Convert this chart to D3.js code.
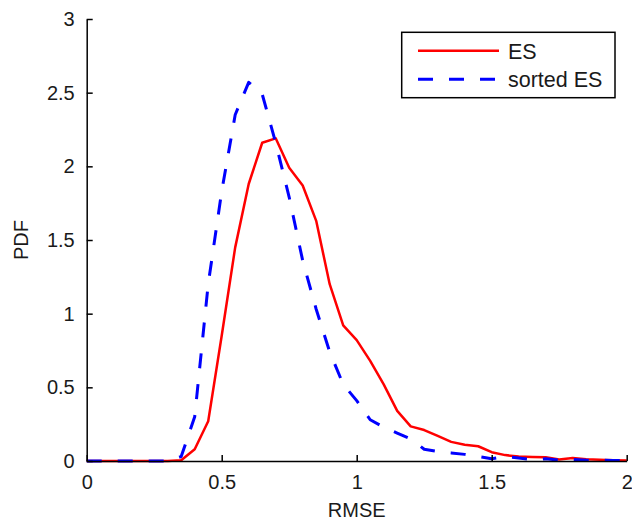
<!DOCTYPE html>
<html>
<head>
<meta charset="utf-8">
<script src="https://cdn.jsdelivr.net/npm/d3@7"></script>
<style>
  body { margin: 0; background: #fff; }
  svg { display: block; font-family: "Liberation Sans", Arial, sans-serif; }
</style>
</head>
<body>
<svg id="chart" width="632" height="520"></svg>
<script>
// RMSE bins (x)
const rmse = [0, 0.05, 0.1, 0.15, 0.2, 0.25, 0.3, 0.35, 0.4, 0.45,
              0.5, 0.55, 0.6, 0.65, 0.7, 0.75, 0.8, 0.85, 0.9, 0.95,
              1.0, 1.05, 1.1, 1.15, 1.2, 1.25, 1.3, 1.35, 1.4, 1.45,
              1.5, 1.55, 1.6, 1.65, 1.7, 1.75, 1.8, 1.85, 1.9, 1.95, 2.0];

// PDF for ES (red, solid)
const pdfES = [0, 0, 0, 0, 0, 0, 0, 0.005, 0.08, 0.27,
               0.85, 1.45, 1.88, 2.16, 2.19, 1.99, 1.87, 1.63, 1.2, 0.92,
               0.82, 0.68, 0.52, 0.34, 0.235, 0.21, 0.17, 0.13, 0.11, 0.1,
               0.06, 0.04, 0.03, 0.027, 0.025, 0.01, 0.02, 0.012, 0.008, 0.005, 0.003];

// PDF for sorted ES (blue, dashed)
const pdfSorted = [0, 0, 0, 0, 0, 0, 0, 0.03, 0.3, 1.2,
                   1.83, 2.35, 2.57, 2.49, 2.16, 1.79, 1.36, 1.03, 0.74, 0.52,
                   0.41, 0.28, 0.23, 0.19, 0.15, 0.08, 0.065, 0.055, 0.045, 0.03,
                   0.015, 0.03, 0.02, 0.01, 0.015, 0.005, 0.01, 0.005, 0.005, 0.004, 0.003];

const xTicks = [0, 0.5, 1, 1.5, 2];
const yTicks = [0, 0.5, 1, 1.5, 2, 2.5, 3];

const series = [
  {name: 'ES', values: pdfES, color: '#ff0000', width: 2.5, dash: null},
  {name: 'sorted ES', values: pdfSorted, color: '#0000ff', width: 3, dash: '15,16'}
];

const svg = d3.select('#chart');
const margin = {left: 86.7, top: 19, right: 5.3, bottom: 59};
const width = 632 - margin.left - margin.right;
const height = 520 - margin.top - margin.bottom;

const body = svg.append('g')
  .attr('transform', 'translate(' + margin.left + ',' + margin.top + ')');

const xScale = d3.scaleLinear().domain([0, 2]).range([0, width]);
const yScale = d3.scaleLinear().domain([0, 3]).range([height, 0]);

// lines
const line = d3.line()
  .x((d, i) => xScale(rmse[i]))
  .y(d => yScale(d));

series.forEach(s => {
  body.append('path')
    .datum(s.values)
    .attr('fill', 'none')
    .attr('stroke', s.color)
    .attr('stroke-width', s.width)
    .attr('stroke-dasharray', s.dash)
    .attr('stroke-linejoin', 'round')
    .attr('d', line);
});

// axes, ticks pointing inward like matlab
const xAxis = body.append('g')
  .attr('transform', 'translate(0,' + height + ')')
  .call(d3.axisBottom(xScale)
    .tickValues(xTicks)
    .tickFormat(d3.format('~g'))
    .tickSizeInner(-6)
    .tickSizeOuter(0)
    .tickPadding(14));

const yAxis = body.append('g')
  .call(d3.axisLeft(yScale)
    .tickValues(yTicks)
    .tickFormat(d3.format('~g'))
    .tickSizeInner(-6)
    .tickSizeOuter(0)
    .tickPadding(12));

[xAxis, yAxis].forEach(a => {
  a.select('.domain').attr('stroke', '#000').attr('stroke-width', 1.5);
  a.selectAll('.tick line').attr('stroke', '#000').attr('stroke-width', 1.5);
  a.selectAll('.tick text')
    .attr('fill', '#1a1a1a')
    .style('font-size', '20px')
    .style('font-family', '"Liberation Sans", Arial, sans-serif');
});

// axis titles
svg.append('text')
  .attr('x', margin.left + width / 2)
  .attr('y', 517)
  .attr('text-anchor', 'middle')
  .attr('fill', '#1a1a1a')
  .style('font-size', '20px')
  .text('RMSE');

svg.append('text')
  .attr('transform', 'translate(28,' + (margin.top + height / 2) + ') rotate(-90)')
  .attr('text-anchor', 'middle')
  .attr('fill', '#1a1a1a')
  .style('font-size', '20px')
  .text('PDF');

// legend
const legend = svg.append('g');
legend.append('rect')
  .attr('x', 401.7).attr('y', 32.3)
  .attr('width', 213.3).attr('height', 65.4)
  .attr('fill', '#fff')
  .attr('stroke', '#000')
  .attr('stroke-width', 1.5);

series.forEach((s, i) => {
  const ly = 50.7 + i * 28.6;
  legend.append('line')
    .attr('x1', 418).attr('x2', 499)
    .attr('y1', ly).attr('y2', ly)
    .attr('stroke', s.color)
    .attr('stroke-width', s.width)
    .attr('stroke-dasharray', s.dash);
  legend.append('text')
    .attr('x', 508)
    .attr('y', ly + 8)
    .attr('fill', '#1a1a1a')
    .style('font-size', '21.5px')
    .text(s.name);
});
</script>
</body>
</html>
